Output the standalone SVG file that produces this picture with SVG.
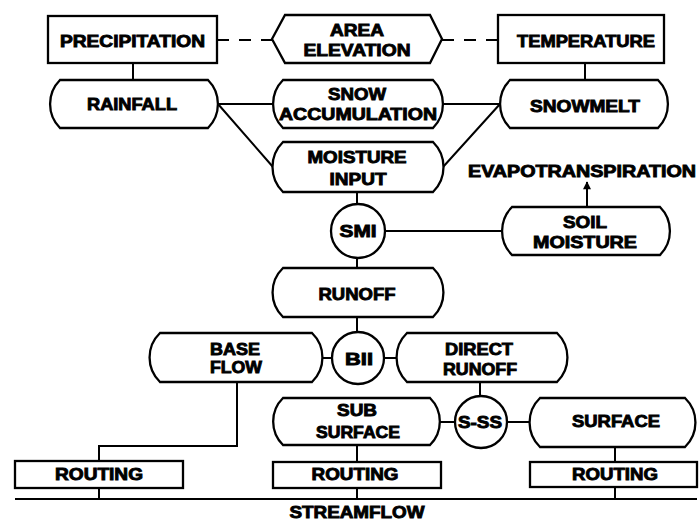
<svg xmlns="http://www.w3.org/2000/svg" width="700" height="522" viewBox="0 0 700 522">
<style>
.b{fill:#fff;stroke:#000;stroke-width:2.3}
.c{fill:none;stroke:#000;stroke-width:2}
.d{stroke-dasharray:12 10}
.t{font-family:"Liberation Sans",Arial,sans-serif;font-weight:bold;font-size:17px;text-anchor:middle;fill:#000;stroke:#000;stroke-width:0.9}
</style>
<defs>
<marker id="ah" viewBox="0 0 10 10" refX="9" refY="5" markerWidth="12" markerHeight="8" orient="auto" markerUnits="userSpaceOnUse">
<path d="M0,0 L10,5 L0,10 Z" fill="#000"/>
</marker>
</defs>
<rect width="700" height="522" fill="#fff"/>
<g id="connectors">
<path class="c d" d="M217,40 H272 M442,40 H498"/>
<path class="c" d="M133,63 V80 M585,63 V80"/>
<path class="c" d="M218,104 H273 M218,104 L273,167 M443,104 H500 M443,167 L500,104"/>
<path class="c" d="M357,192 V204 M385,231 H502 M357,258 V268 M357,317 V332"/>
<path class="c" d="M587,207 V182" marker-end="url(#ah)"/>
<path class="c" d="M322,358 H332 M384,358 H397 M480,382 V396 M440,422 H455 M507,422 H530"/>
<path class="c" d="M237,382 V446 H99 V461 M357,445 V462 M615,447 V462"/>
<path class="c" d="M99,488 V499 M357,488 V499 M615,487 V499 M15,499 H697"/>
</g>
<g id="precipitation">
<rect class="b" x="48" y="16" width="169" height="47"/>
<text class="t" x="132.5" y="47" textLength="145" lengthAdjust="spacingAndGlyphs">PRECIPITATION</text>
</g>
<g id="area-elevation">
<polygon class="b" points="272,39 285,15 430,15 442,39 430,63 285,63"/>
<text class="t" x="357" y="36" textLength="54" lengthAdjust="spacingAndGlyphs">AREA</text>
<text class="t" x="357" y="56" textLength="107" lengthAdjust="spacingAndGlyphs">ELEVATION</text>
</g>
<g id="temperature">
<rect class="b" x="498" y="15" width="166" height="48"/>
<text class="t" x="586" y="47" textLength="138" lengthAdjust="spacingAndGlyphs">TEMPERATURE</text>
</g>
<g id="rainfall">
<path class="b" d="M60,80 H208 A34 34 0 0 1 208,128 H60 A34 34 0 0 1 60,80 Z"/>
<text class="t" x="132" y="110" textLength="90" lengthAdjust="spacingAndGlyphs">RAINFALL</text>
</g>
<g id="snow-accumulation">
<path class="b" d="M283,80 H433 A34 34 0 0 1 433,128 H283 A34 34 0 0 1 283,80 Z"/>
<text class="t" x="357" y="100" textLength="58" lengthAdjust="spacingAndGlyphs">SNOW</text>
<text class="t" x="358" y="120" textLength="158" lengthAdjust="spacingAndGlyphs">ACCUMULATION</text>
</g>
<g id="snowmelt">
<path class="b" d="M510,80 H658 A34 34 0 0 1 658,128 H510 A34 34 0 0 1 510,80 Z"/>
<text class="t" x="585" y="112" textLength="110" lengthAdjust="spacingAndGlyphs">SNOWMELT</text>
</g>
<g id="moisture-input">
<path class="b" d="M283,142 H433 A35 35 0 0 1 433,192 H283 A35 35 0 0 1 283,142 Z"/>
<text class="t" x="357" y="163" textLength="99" lengthAdjust="spacingAndGlyphs">MOISTURE</text>
<text class="t" x="358" y="185" textLength="57" lengthAdjust="spacingAndGlyphs">INPUT</text>
</g>
<g id="evapotranspiration">
<text class="t" x="582" y="177" textLength="228" lengthAdjust="spacingAndGlyphs">EVAPOTRANSPIRATION</text>
</g>
<g id="smi">
<circle class="b" cx="358" cy="231" r="27"/>
<text class="t" x="358" y="237" textLength="37" lengthAdjust="spacingAndGlyphs">SMI</text>
</g>
<g id="soil-moisture">
<path class="b" d="M512,207 H660 A34 34 0 0 1 660,255 H512 A34 34 0 0 1 512,207 Z"/>
<text class="t" x="585" y="228" textLength="44" lengthAdjust="spacingAndGlyphs">SOIL</text>
<text class="t" x="585" y="248" textLength="104" lengthAdjust="spacingAndGlyphs">MOISTURE</text>
</g>
<g id="runoff">
<path class="b" d="M283,268 H433 A34 34 0 0 1 433,317 H283 A34 34 0 0 1 283,268 Z"/>
<text class="t" x="357" y="300" textLength="77" lengthAdjust="spacingAndGlyphs">RUNOFF</text>
</g>
<g id="base-flow">
<path class="b" d="M160,333 H312 A34 34 0 0 1 312,382 H160 A34 34 0 0 1 160,333 Z"/>
<text class="t" x="235" y="355" textLength="50" lengthAdjust="spacingAndGlyphs">BASE</text>
<text class="t" x="236" y="373" textLength="52" lengthAdjust="spacingAndGlyphs">FLOW</text>
</g>
<g id="bii">
<circle class="b" cx="358" cy="358" r="26"/>
<text class="t" x="359" y="365" textLength="28" lengthAdjust="spacingAndGlyphs">BII</text>
</g>
<g id="direct-runoff">
<path class="b" d="M407,333 H557 A34 34 0 0 1 557,382 H407 A34 34 0 0 1 407,333 Z"/>
<text class="t" x="479" y="355" textLength="68" lengthAdjust="spacingAndGlyphs">DIRECT</text>
<text class="t" x="480" y="375" textLength="74" lengthAdjust="spacingAndGlyphs">RUNOFF</text>
</g>
<g id="sub-surface">
<path class="b" d="M283,398 H430 A33 33 0 0 1 430,445 H283 A33 33 0 0 1 283,398 Z"/>
<text class="t" x="357" y="416" textLength="40" lengthAdjust="spacingAndGlyphs">SUB</text>
<text class="t" x="358" y="438" textLength="84" lengthAdjust="spacingAndGlyphs">SURFACE</text>
</g>
<g id="s-ss">
<circle class="b" cx="481" cy="422" r="26"/>
<text class="t" x="480" y="428" textLength="44" lengthAdjust="spacingAndGlyphs">S-SS</text>
</g>
<g id="surface">
<path class="b" d="M540,398 H685 A34 34 0 0 1 685,447 H540 A34 34 0 0 1 540,398 Z"/>
<text class="t" x="616" y="427" textLength="88" lengthAdjust="spacingAndGlyphs">SURFACE</text>
</g>
<g id="routing-1">
<rect class="b" x="15" y="461" width="168" height="27"/>
<text class="t" x="99" y="480" textLength="88" lengthAdjust="spacingAndGlyphs">ROUTING</text>
</g>
<g id="routing-2">
<rect class="b" x="273" y="462" width="168" height="26"/>
<text class="t" x="355" y="480" textLength="87" lengthAdjust="spacingAndGlyphs">ROUTING</text>
</g>
<g id="routing-3">
<rect class="b" x="530" y="462" width="167" height="25"/>
<text class="t" x="615" y="480" textLength="86" lengthAdjust="spacingAndGlyphs">ROUTING</text>
</g>
<g id="streamflow">
<text class="t" x="357" y="518" textLength="135" lengthAdjust="spacingAndGlyphs">STREAMFLOW</text>
</g>
</svg>
